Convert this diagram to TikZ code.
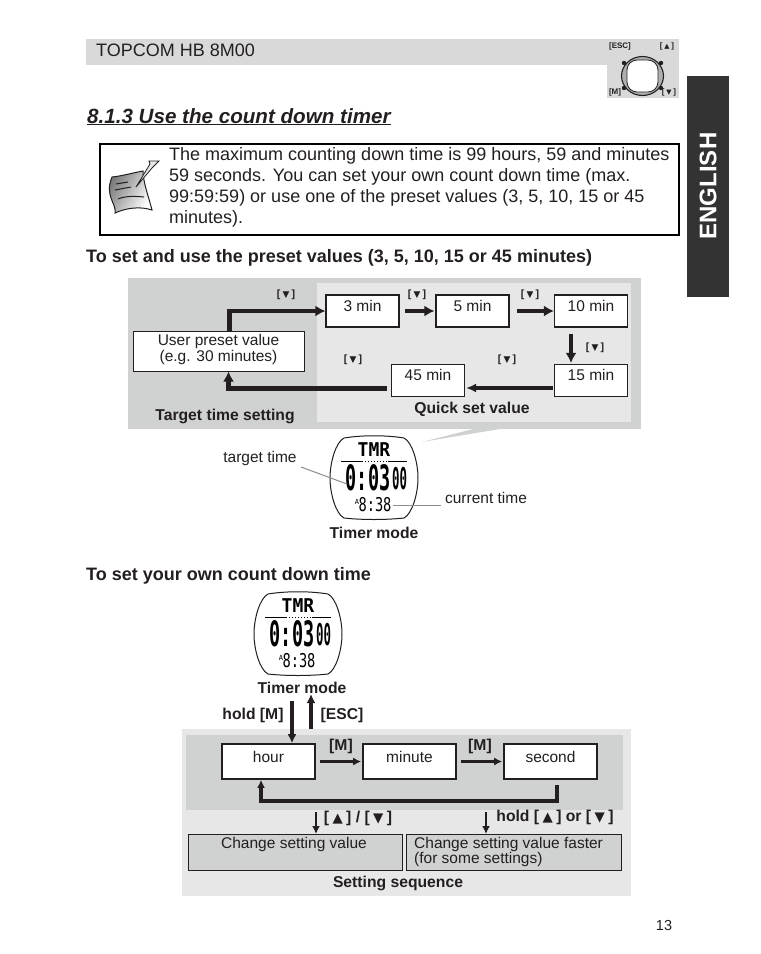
\documentclass[tikz,border=0pt]{standalone}
\usepackage{graphicx}
\usepackage{fontspec}
\setmainfont{Liberation Sans}
\newfontfamily\symfont{DejaVu Sans}
\newfontfamily\lcdfont{DejaVu Sans Mono}
\usetikzlibrary{arrows.meta,positioning,calc}
\definecolor{pagegrey}{RGB}{217,217,217}
\definecolor{paneldark}{RGB}{208,210,209}
\definecolor{panellight}{RGB}{231,231,231}
\definecolor{tabdark}{RGB}{51,51,51}
\definecolor{inktext}{RGB}{35,31,32}
\definecolor{leader}{RGB}{140,140,140}
\newcommand{\fs}[1]{\fontsize{#1}{#1}\selectfont}
\newcommand{\dnkey}{[\hspace{.22em}{\symfont\scalebox{0.85}{▼}}\hspace{.22em}]}
\newcommand{\upkey}{[\hspace{.22em}{\symfont\scalebox{0.85}{▲}}\hspace{.22em}]}
\tikzset{
  plain/.style={inner sep=0pt, text=inktext, font=\fs{15.5}},
  caption/.style={inner sep=0pt, text=inktext, font=\fs{15.7}\bfseries},
  keylabel/.style={inner sep=0pt, text=inktext, font=\fs{10.5}\bfseries},
  timebox/.style={draw=inktext, fill=white, line width=1.2pt, minimum width=73pt, inner sep=0pt,
    text=inktext, font=\fs{15.5}, text height=16pt, text depth=16pt},
  setbox/.style={draw=inktext, fill=white, line width=1.6pt, minimum width=93pt, inner sep=0pt,
    text=inktext, font=\fs{15.5}, text height=18pt, text depth=17pt},
  greybox/.style={draw=inktext, fill=paneldark, line width=0.8pt, inner sep=0pt, anchor=north west},
  flow/.style={-{Latex[length=10pt,width=11pt]}, line width=4.5pt, draw=inktext},
  slimflow/.style={-{Latex[length=8pt,width=8pt]}, line width=2.5pt, draw=inktext},
  lead/.style={draw=leader, line width=1pt},
  watchface/.pic={
    \draw[draw=inktext, line width=1pt, fill=white]
      (-30,-40) .. controls (-12,-43) and (12,-43) .. (30,-40)
      .. controls (38,-36) and (44,-16) .. (44,0)
      .. controls (44,16) and (38,36) .. (30,40)
      .. controls (12,42) and (-12,42) .. (-30,40)
      .. controls (-38,36) and (-44,16) .. (-44,0)
      .. controls (-44,-16) and (-38,-36) .. (-30,-40) -- cycle;
    \node[inner sep=0pt, text=black] (-title) at (0,-28) {\lcdfont\fs{19}\bfseries\scalebox{0.95}[1]{TMR}};
    \draw[black, line width=1pt] (-33,-17) -- (-12,-17);
    \draw[black, line width=1pt, dotted] (-12,-17) -- (14,-17);
    \draw[black, line width=1pt] (14,-17) -- (33,-17);
    \node[inner sep=0pt, text=black] (-big) at (-6,0) {\lcdfont\fs{28}\bfseries\scalebox{0.66}[1.25]{0:03}};
    \node[inner sep=0pt, text=black, anchor=west] (-sec) at (18,1) {\lcdfont\fs{20}\bfseries\scalebox{0.62}[1.5]{00}};
    \node[inner sep=0pt, text=black] (-clock) at (1,27) {\lcdfont\fs{19}\scalebox{0.72}[1]{8:38}};
    \node[inner sep=0pt, text=black] (-ampm) at (-17,24) {\lcdfont\fs{7}A};
  }
}

\begin{document}
\begin{tikzpicture}[x=1pt,y=-1pt]
  \useasboundingbox (0,0) rectangle (761,954);

  \fill[pagegrey] (86,39) rectangle (679,65);
  \fill[pagegrey] (607,39) rectangle (679,98);
  \node[plain, anchor=west, font=\fs{18}] (model) at (96,50) {TOPCOM HB 8M00};

  \draw[inktext, line width=1.1pt, fill=leader!70] (642.5,76) ellipse (21 and 19.5);
  \draw[inktext, line width=0.8pt, fill=white, rounded corners=10pt] (627,60) rectangle (658,92);
  \foreach \bx/\by in {624/63,661/63,624/88,661/88}
    \fill[inktext] (\bx,\by) circle (2.2);
  \node[keylabel, font=\fs{8}\bfseries] (iconesc) at (620,46) {[ESC]};
  \node[keylabel, font=\fs{8}\bfseries] (iconup) at (667,46) {\upkey};
  \node[keylabel, font=\fs{8}\bfseries] (iconm) at (615,92) {[M]};
  \node[keylabel, font=\fs{8}\bfseries] (icondn) at (669,92) {\dnkey};

  \fill[tabdark] (687,76) rectangle (729,297);
  \node[rotate=90, inner sep=0pt, text=white, font=\fs{24}\bfseries] (english) at (708,186) {ENGLISH};

  \node[plain, anchor=base west, font=\fs{20.6}\bfseries\itshape] (title) at (87,123) {\underline{8.1.3 Use the count down timer}};

  \draw[black, line width=1.2pt] (100,144) rectangle (679,235);
  \node[plain, anchor=north west, align=left, font=\fontsize{18}{21}\selectfont] (notetext) at (169,147.5)
    {The maximum counting down time is 99 hours, 59 and minutes\\
     59 seconds. You can set your own count down time (max.\\
     99:59:59) or use one of the preset values (3, 5, 10, 15 or 45\\
     minutes).};
  \draw[inktext, line width=1pt, left color=leader!80!black, right color=white, shading angle=60]
    (112,177) .. controls (122,176) and (132,173) .. (143,171)
    .. controls (143,182) and (149,198) .. (152,210)
    .. controls (140,206) and (126,208) .. (115,213)
    .. controls (117,204) and (104,196) .. (112,177) -- cycle;
  \draw[inktext, line width=0.8pt, fill=panellight] (136,187) -- (150,164) -- (149,161) -- (159,161) -- (152,168) -- cycle;
  \draw[inktext, line width=1pt] (116,184) -- (128,182);
  \draw[inktext, line width=1pt] (115,190) -- (131,187);
  \draw[inktext, line width=1pt] (118,199) .. controls (125,196) and (134,196) .. (144,197);

  \node[caption, anchor=base west, font=\fs{18}\bfseries] (presethead) at (86,262) {To set and use the preset values (3, 5, 10, 15 or 45 minutes)};

  \fill[paneldark] (128,278) rectangle (641,429);
  \fill[panellight] (317,283) rectangle (631,422);
  \fill[paneldark] (422,442) -- (500,429) -- (473,429) -- cycle;

  \node[timebox] (threemin) at (362.5,311) {3 min};
  \node[timebox] (fivemin) at (472.5,311) {5 min};
  \node[timebox] (tenmin) at (591,311) {10 min};
  \node[timebox] (fifteenmin) at (591,380.5) {15 min};
  \node[timebox] (fortyfivemin) at (428,380.5) {45 min};
  \node[draw=inktext, fill=white, line width=1pt, minimum width=171pt, minimum height=40pt, inner sep=0pt,
    align=center, text=inktext, font=\fontsize{15.5}{14}\selectfont] (userpreset) at (218.5,351)
    {User preset value\\(e.g. 30 minutes)\rule[-6pt]{0pt}{0pt}};

  \draw[flow] ([xshift=11pt]userpreset.north) |- (threemin.west);
  \draw[flow, shorten <=5pt, shorten >=1pt] (threemin) -- (fivemin);
  \draw[flow, shorten <=7pt, shorten >=0pt] (fivemin) -- (tenmin);
  \draw[flow, shorten <=6pt, shorten >=1pt] ([xshift=-20pt]tenmin.south) -- ([xshift=-20pt]fifteenmin.north);
  \draw[slimflow, line width=3.5pt, -{Latex[length=10pt,width=9pt]}, shorten <=1pt, shorten >=1pt] ([yshift=-7.5pt]fifteenmin.west) -- ([yshift=-7.5pt]fortyfivemin.east);
  \draw[flow, shorten <=4pt] ([yshift=-8pt]fortyfivemin.west) -| ([xshift=10pt]userpreset.south);

  \node[keylabel] (keya) at (286,295) {\dnkey};
  \node[keylabel] (keyb) at (417,295) {\dnkey};
  \node[keylabel] (keyc) at (530,295) {\dnkey};
  \node[keylabel] (keyd) at (595,348) {\dnkey};
  \node[keylabel] (keye) at (353,360) {\dnkey};
  \node[keylabel] (keyf) at (507,360) {\dnkey};
  \node[caption] (targetsetting) at (225,416) {Target time setting};
  \node[caption] (quickset) at (472,409) {Quick set value};

  \pic (watchtop) at (374,478) {watchface};
  \node[plain] (targettime) at (260,458) {target time};
  \node[plain] (currenttime) at (486,498) {current time};
  \draw[lead] (301,467) -- (347,484);
  \draw[lead] (393,505) -- (441,505);
  \node[caption] (timermodetop) at (374,533) {Timer mode};

  \node[caption, anchor=base west, font=\fs{18}\bfseries] (ownhead) at (86,580) {To set your own count down time};

  \pic (watchown) at (298,634) {watchface};
  \node[caption] (timermodeown) at (302,688) {Timer mode};

  \fill[panellight] (182,729) rectangle (631,896);
  \fill[paneldark] (186,735) rectangle (623,810);

  \coordinate (holdtop) at (292,701);
  \coordinate (escbottom) at (311,729);
  \coordinate (esctop) at (311,694);
  \node[setbox] (hour) at (268.5,761.5) {hour};
  \node[setbox] (minute) at (409.5,761.5) {minute};
  \node[setbox] (second) at (550.5,761.5) {second};
  \draw[flow, -{Latex[length=9pt,width=9pt]}] (holdtop) -- (holdtop |- hour.north);
  \draw[flow, -{Latex[length=9pt,width=9pt]}] (escbottom) -- (esctop);
  \node[caption] (holdm) at (253,715) {hold [M]};
  \node[caption] (esclabel) at (342,715) {[ESC]};

  \draw[slimflow, line width=3pt, shorten <=4pt, shorten >=1pt] (hour) -- (minute);
  \draw[slimflow, line width=3pt, shorten <=4pt, shorten >=1pt] (minute) -- (second);
  \draw[slimflow, line width=3.5pt, shorten <=5pt] ([xshift=6.5pt]second.south) -- ++(0,21) -| ([xshift=-7.5pt]hour.south);
  \node[caption] (ma) at (341,746) {[M]};
  \node[caption] (mb) at (480,746) {[M]};

  \node[greybox, minimum width=214pt, minimum height=36pt] (changevalue) at (188,834) {};
  \node[greybox, minimum width=215pt, minimum height=36pt] (changefaster) at (406,834) {};
  \node[plain, anchor=north] (changevaluetext) at (294,837) {Change setting value};
  \node[plain, anchor=north west, align=left, font=\fontsize{15.5}{14}\selectfont] (changefastertext) at (414,837)
    {Change setting value faster\\(for some settings)};
  \coordinate (arrowa) at (316,812);
  \coordinate (arrowb) at (486,812);
  \draw[slimflow] (arrowa) -- (arrowa |- changevalue.north);
  \draw[slimflow] (arrowb) -- (arrowb |- changefaster.north);
  \node[caption] (keysingle) at (358,818) {\upkey\ / \dnkey};
  \node[caption] (keyhold) at (555,817) {hold \upkey\ or \dnkey};
  \node[caption] (settingseq) at (398,883) {Setting sequence};

  \node[plain, font=\fs{14.5}] (pagenumber) at (664,925) {13};
\end{tikzpicture}
\end{document}
